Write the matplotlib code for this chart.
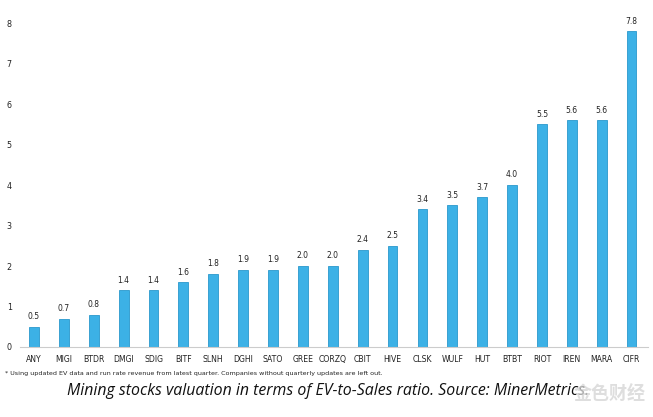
import numpy as np
import matplotlib.pyplot as plt

tickers = ['ANY', 'MIGI', 'BTDR', 'DMGI', 'SDIG', 'BITF', 'SLNH', 'DGHI', 'SATO', 'GREE',
           'CORZQ', 'CBIT', 'HIVE', 'CLSK', 'WULF', 'HUT', 'BTBT', 'RIOT', 'IREN', 'MARA', 'CIFR']
ev_sales = [0.5, 0.7, 0.8, 1.4, 1.4, 1.6, 1.8, 1.9, 1.9, 2.0,
            2.0, 2.4, 2.5, 3.4, 3.5, 3.7, 4.0, 5.5, 5.6, 5.6, 7.8]
yticks = [0, 1, 2, 3, 4, 5, 6, 7, 8]

footnote = '* Using updated EV data and run rate revenue from latest quarter. Companies without quarterly updates are left out.'
caption = 'Mining stocks valuation in terms of EV-to-Sales ratio. Source: MinerMetrics.'

fig = plt.figure(figsize=(6.53, 4.17), dpi=100)
W, H = 653, 417
# axes box in pixels: left 20, right 648, baseline 347, top 3
ax = fig.add_axes([20 / W, (H - 347) / H, 628 / W, 344 / H])

x = np.arange(len(tickers))
ax.bar(x, ev_sales, width=0.33, color='#3cb1e6', edgecolor='#2a98cc', linewidth=0.6)
for xi, v in zip(x, ev_sales):
    ax.text(xi, v + 0.14, f'{v:.1f}', ha='center', va='bottom', fontsize=5.5, color='#222222')

ax.set_xlim(-0.47, len(tickers) - 0.45)
ax.set_ylim(0, 8.5)
ax.set_xticks(x)
ax.set_xticklabels(tickers, fontsize=5.6, color='#222222')
ax.set_yticks(yticks)
ax.set_yticklabels([str(t) for t in yticks], fontsize=5.8, color='#222222')
ax.tick_params(axis='both', length=0)
ax.tick_params(axis='x', pad=6)
ax.tick_params(axis='y', pad=6)
for s in ['top', 'right', 'left']:
    ax.spines[s].set_visible(False)
ax.spines['bottom'].set_color('#cccccc')
ax.spines['bottom'].set_linewidth(0.8)

fig.text(5 / W, 1 - 374 / H, footnote, fontsize=4.6, color='#222222', va='center', ha='left')
fig.text(328 / W, 1 - 391 / H, caption, fontsize=11.4, style='italic', color='#111111',
         va='center', ha='center', family=['Open Sans', 'DejaVu Sans'])
# watermark (overlaps the caption in the original image too)
fig.text(646 / W, 1 - 394 / H, '金色财经', fontsize=13, color='#d6d6d6', alpha=0.8,
         va='center', ha='right', family=['Noto Sans CJK SC', 'DejaVu Sans'], weight='bold')

fig.savefig('out.png', dpi=100)
